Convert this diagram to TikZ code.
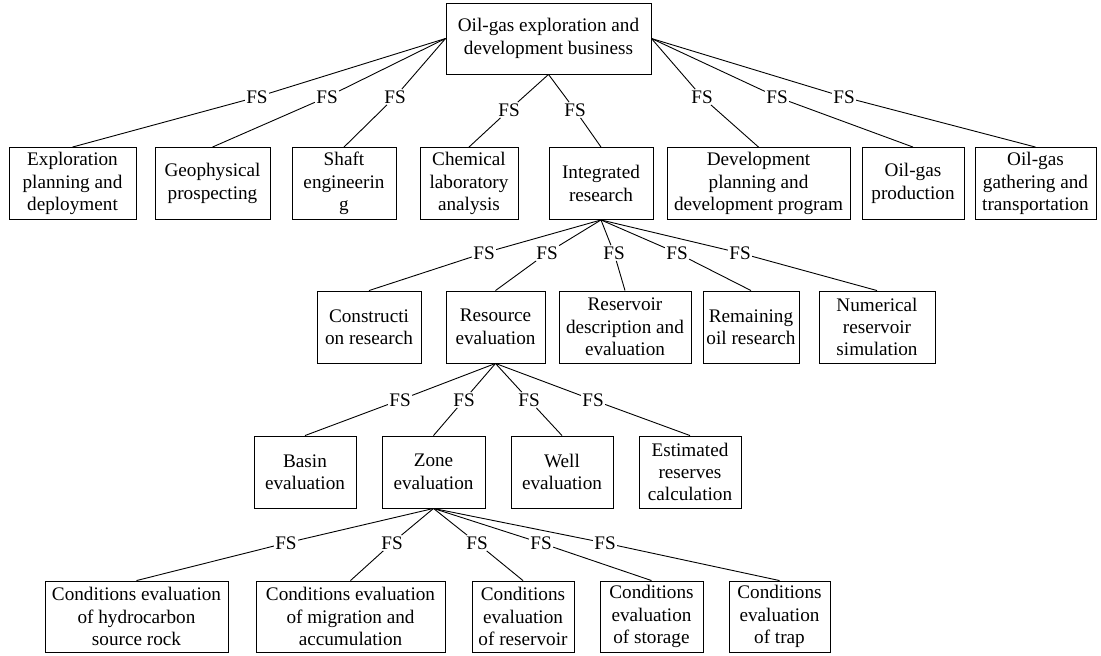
\documentclass[tikz,border=0pt]{standalone}
\usepackage{fontspec}
\setmainfont{Liberation Serif}
\usepackage{tikz}

\begin{document}
\begin{tikzpicture}[x=1pt,y=1pt,line width=0.9pt]
		\tikzstyle{every node}+=[inner sep=0pt,align=center,font=\fontsize{19.2}{22.4}\selectfont]
		\tikzstyle{box}=[draw=black,rectangle,minimum height=72pt]
		\tikzstyle{fs}=[fill=white,inner sep=1pt]
		\useasboundingbox (0,0) rectangle (1101,-656);
		\node [box,minimum width=205pt,minimum height=71pt] (top) at (548.5,-38.5) {Oil-gas exploration and\\development business};
		\node [box,minimum width=127pt] (expl) at (72.5,-183.5) {Exploration\\planning and\\deployment};
		\node [box,minimum width=115pt] (geo) at (212.5,-183.5) {Geophysical\\prospecting};
		\node [box,minimum width=104pt] (shaft) at (344,-183.5) {Shaft\\engineerin\\g};
		\node [box,minimum width=98pt] (chem) at (469,-183.5) {Chemical\\laboratory\\analysis};
		\node [box,minimum width=104pt] (integ) at (601,-183.5) {Integrated\\research};
		\node [box,minimum width=183pt] (dev) at (758.5,-183.5) {Development\\planning and\\development program};
		\node [box,minimum width=102pt] (prod) at (913,-183.5) {Oil-gas\\production};
		\node [box,minimum width=121pt] (gath) at (1035.5,-183.5) {Oil-gas\\gathering and\\transportation};
		\node [fs] (fsa) at (257,-97) {FS};
		\node [fs] (fsb) at (327,-97) {FS};
		\node [fs] (fsc) at (395,-97) {FS};
		\node [fs] (fsd) at (509,-110) {FS};
		\node [fs] (fse) at (575,-110) {FS};
		\node [fs] (fsf) at (702,-97) {FS};
		\node [fs] (fsg) at (777,-97) {FS};
		\node [fs] (fsh) at (844,-97) {FS};
		\draw [black] (top.west) -- (fsa) -- (expl.north);
		\draw [black] (top.west) -- (fsb) -- (geo.north);
		\draw [black] (top.west) -- (fsc) -- (shaft.north);
		\draw [black] (top.south) -- (fsd) -- (chem.north);
		\draw [black] (top.south) -- (fse) -- (integ.north);
		\draw [black] (top.east) -- (fsf) -- (dev.north);
		\draw [black] (top.east) -- (fsg) -- (prod.north);
		\draw [black] (top.east) -- (fsh) -- (gath.north);
		\node [box,minimum width=104pt] (cons) at (369,-327) {Constructi\\on research};
		\node [box,minimum width=99pt] (res) at (495.5,-327) {Resource\\evaluation};
		\node [box,minimum width=132pt] (resv) at (625,-327) {Reservoir\\description and\\evaluation};
		\node [box,minimum width=96pt] (rem) at (751,-327) {Remaining\\oil research};
		\node [box,minimum width=116pt] (num) at (877,-327) {Numerical\\reservoir\\simulation};
		\node [fs] (fsi) at (484,-253) {FS};
		\node [fs] (fsj) at (547,-253) {FS};
		\node [fs] (fsk) at (614,-253) {FS};
		\node [fs] (fsl) at (677,-253) {FS};
		\node [fs] (fsm) at (740,-253) {FS};
		\draw [black] (integ.south) -- (fsi) -- (cons.north);
		\draw [black] (integ.south) -- (fsj) -- (res.north);
		\draw [black] (integ.south) -- (fsk) -- (resv.north);
		\draw [black] (integ.south) -- (fsl) -- (rem.north);
		\draw [black] (integ.south) -- (fsm) -- (num.north);
		\node [box,minimum width=102pt] (basin) at (305,-472) {Basin\\evaluation};
		\node [box,minimum width=103pt] (zone) at (433.5,-472) {Zone\\evaluation};
		\node [box,minimum width=102pt] (well) at (562,-472) {Well\\evaluation};
		\node [box,minimum width=102pt] (est) at (690,-472) {Estimated\\reserves\\calculation};
		\node [fs] (fsn) at (400,-400) {FS};
		\node [fs] (fso) at (464,-400) {FS};
		\node [fs] (fsp) at (529,-400) {FS};
		\node [fs] (fsq) at (593,-400) {FS};
		\draw [black] (res.south) -- (fsn) -- (basin.north);
		\draw [black] (res.south) -- (fso) -- (zone.north);
		\draw [black] (res.south) -- (fsp) -- (well.north);
		\draw [black] (res.south) -- (fsq) -- (est.north);
		\node [box,minimum width=183pt,minimum height=71pt] (srock) at (136.5,-616.5) {Conditions evaluation\\of hydrocarbon\\source rock};
		\node [box,minimum width=189pt,minimum height=71pt] (migr) at (350.5,-616.5) {Conditions evaluation\\of migration and\\accumulation};
		\node [box,minimum width=102pt,minimum height=71pt] (rsvr) at (523,-616.5) {Conditions\\evaluation\\of reservoir};
		\node [box,minimum width=103pt,minimum height=71pt] (stor) at (651.5,-616.5) {Conditions\\evaluation\\of storage};
		\node [box,minimum width=101pt,minimum height=71pt] (trap) at (779.5,-616.5) {Conditions\\evaluation\\of trap};
		\node [fs] (fsr) at (286,-543) {FS};
		\node [fs] (fss) at (392,-543) {FS};
		\node [fs] (fst) at (477,-543) {FS};
		\node [fs] (fsu) at (541,-543) {FS};
		\node [fs] (fsv) at (605,-543) {FS};
		\draw [black] (zone.south) -- (fsr) -- (srock.north);
		\draw [black] (zone.south) -- (fss) -- (migr.north);
		\draw [black] (zone.south) -- (fst) -- (rsvr.north);
		\draw [black] (zone.south) -- (fsu) -- (stor.north);
		\draw [black] (zone.south) -- (fsv) -- (trap.north);
	\end{tikzpicture}
\end{document}
